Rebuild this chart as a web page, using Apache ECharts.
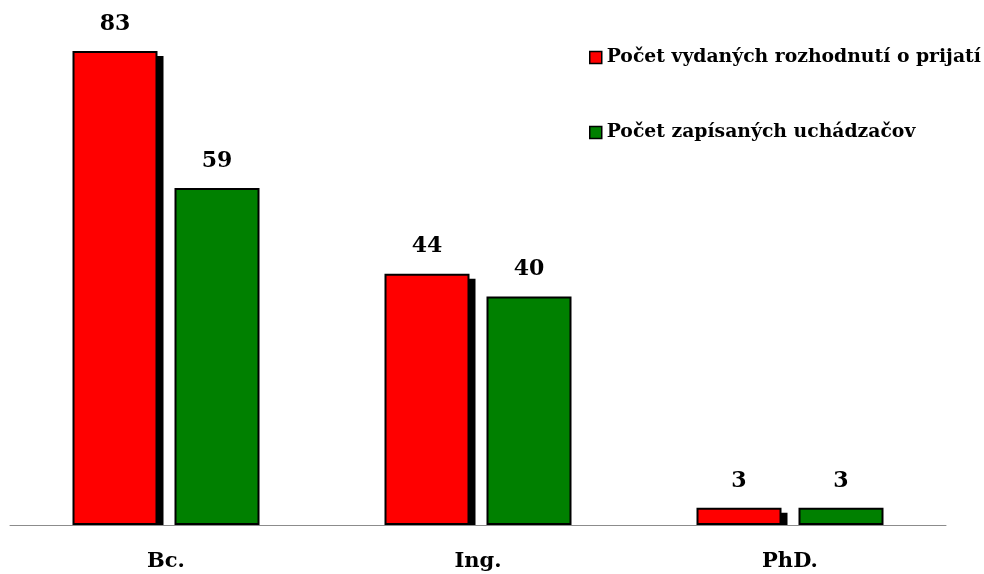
<!DOCTYPE html>
<html><head><meta charset="utf-8">
<script src="https://cdn.jsdelivr.net/npm/echarts@6/dist/echarts.min.js"></script>
<style>html,body{margin:0;padding:0;background:#fff}#c{width:984px;height:574px}</style>
</head><body><div id="c"></div>
<script>
const categories = ['Bc.', 'Ing.', 'PhD.'];
const seriesNames = ['Počet vydaných rozhodnutí o prijatí', 'Počet zapísaných uchádzačov'];
const issued = [83, 44, 3];
const enrolled = [59, 40, 3];

const font = '"DejaVu Serif", serif';
const BAR_W = 85, GAP_RATIO = 0.2;
const chart = echarts.init(document.getElementById('c'));
chart.setOption({
  animation: false,
  legend: {
    orient: 'vertical', left: 584, top: 43, itemGap: 56,
    itemWidth: 12, itemHeight: 12, icon: 'rect', itemStyle: { borderColor: '#000', borderWidth: 1.5 },
    textStyle: { fontFamily: font, fontWeight: 'bold', fontSize: 18.8, color: '#000' },
    data: seriesNames
  },
  grid: { left: 10, width: 936, top: 11, height: 514 },
  xAxis: {
    type: 'category', data: categories,
    axisLine: { lineStyle: { color: '#8c8c8c', width: 1 } },
    axisTick: { show: false },
    axisLabel: { margin: 26, fontFamily: font, fontWeight: 'bold', fontSize: 21, color: '#000' }
  },
  yAxis: { type: 'value', min: 0, max: 90, show: false, splitLine: { show: false } },
  series: [
    { name: 'shadow', type: 'custom', z: 1, silent: true, data: issued.map((v, i) => [i, v]),
      renderItem: function (params, api) {
        const top = api.coord([api.value(0), api.value(1)]);
        const base = api.coord([api.value(0), 0]);
        const step = BAR_W * (1 + GAP_RATIO);
        const x = top[0] - step / 2 - BAR_W / 2 + 6;
        const y = top[1] + 5;
        return { type: 'rect', shape: { x: x, y: y, width: BAR_W, height: Math.max(0, base[1] - y) },
          style: { fill: '#000' } };
      } },
    { name: seriesNames[0], type: 'bar', data: issued, barWidth: BAR_W, barGap: '20%', z: 2,
      itemStyle: { color: '#ff0000', borderColor: '#000', borderWidth: 2 },
      label: { show: true, position: 'top', distance: 16, fontFamily: font, fontWeight: 'bold', fontSize: 22, color: '#000' } },
    { name: seriesNames[1], type: 'bar', data: enrolled, barWidth: BAR_W, z: 2,
      itemStyle: { color: '#008000', borderColor: '#000', borderWidth: 2 },
      label: { show: true, position: 'top', distance: 16, fontFamily: font, fontWeight: 'bold', fontSize: 22, color: '#000' } }
  ]
});
</script></body></html>
